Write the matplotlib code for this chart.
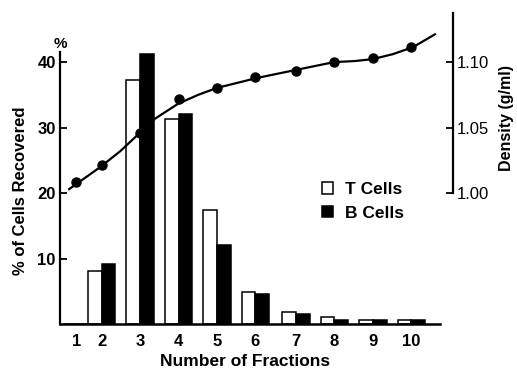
import numpy as np
import matplotlib
matplotlib.use("Agg")
import matplotlib.pyplot as plt

plt.rcParams['font.family'] = ['Liberation Sans', 'DejaVu Sans']

# fractions and where they sit along the x axis
fractions = ["1", "2", "3", "4", "5", "6", "7", "8", "9", "10"]
frac_x = [1.35, 2, 3, 4, 5, 6, 7.05, 8.05, 9.05, 10.05]

# % of cells recovered
t_cells = [0, 8.1, 37.3, 31.3, 17.4, 4.9, 1.8, 1.0, 0.6, 0.6]
b_cells = [0, 9.2, 41.2, 32.1, 12.1, 4.6, 1.6, 0.6, 0.6, 0.6]

# density of each fraction (g/ml)
density = [1.0083, 1.0212, 1.0462, 1.0718, 1.0803, 1.0886, 1.0932, 1.100, 1.103, 1.1114]

# fitted density curve
curve_x = [1.16, 1.96, 2.48, 2.95, 3.39, 3.99, 4.51, 5.0, 6.04, 7.03, 8.04, 8.58, 9.05, 9.57, 10.09, 10.66]
curve_d = [1.003, 1.0197, 1.0318, 1.0447, 1.0568, 1.0682, 1.075, 1.0803, 1.0879, 1.0939,
           1.100, 1.1008, 1.1023, 1.1061, 1.1114, 1.1212]

W, H = 517, 369
fig = plt.figure(figsize=(W/100, H/100), dpi=100)
ax = fig.add_axes([60/W, 1-324/H, (453-60)/W, (324-13)/H])
ax.set_xlim(0.922, 11.13)
ax.set_ylim(0, 47.5)

bw = 0.36
x = np.array(frac_x)
ax.bar(x - bw/2, t_cells, bw, color="white", edgecolor="black", linewidth=1.1, label="T Cells")
ax.bar(x + bw/2, b_cells, bw, color="black", edgecolor="black", linewidth=1.1, label="B Cells")

ax.spines['top'].set_visible(False)
ax.spines['right'].set_visible(False)
ax.spines['left'].set_linewidth(1.6)
ax.spines['bottom'].set_linewidth(1.8)
ax.spines['left'].set_bounds(0, 41.5)
ax.spines['bottom'].set_bounds(0.922, 10.79)
ax.set_yticks([10, 20, 30, 40])
ax.set_yticklabels(["10", "20", "30", "40"], fontsize=12, fontweight="bold")
ax.tick_params(axis='y', direction='in', length=5, width=1.3, pad=3)
ax.set_xticks(frac_x)
ax.set_xticklabels(fractions, fontsize=12, fontweight="bold")
ax.tick_params(axis='x', length=0, pad=7)
ax.set_xlabel("Number of Fractions", fontsize=12.5, fontweight="bold", va="center", ha="center")
ax.xaxis.set_label_coords((245-60)/393, -(361-324)/311)
ax.set_ylabel("% of Cells Recovered", fontsize=12, fontweight="bold", va="center", ha="center")
ax.yaxis.set_label_coords((21-60)/393, (324-191)/311)

ax2 = ax.twinx()
ax2.set_ylim(0.90, 1.1375)
for s in ['left', 'top', 'bottom']:
    ax2.spines[s].set_visible(False)
ax2.spines['right'].set_linewidth(1.6)
ax2.spines['right'].set_bounds(1.0, 1.1375)
ax2.set_yticks([1.00, 1.05, 1.10])
ax2.set_yticklabels(["1.00", "1.05", "1.10"], fontsize=12)
ax2.tick_params(axis='y', direction='in', length=5, width=1.3, pad=3)
ax2.set_ylabel("Density (g/ml)", fontsize=11.5, fontweight="bold", va="center", ha="center")
ax2.yaxis.set_label_coords((506-60)/393, (324-118)/311)

ax2.plot(curve_x, curve_d, color="black", linewidth=1.6, solid_joinstyle="round")
ax2.plot(frac_x, density, "o", color="black", markersize=6.5)

fig.text(60/W, 1-44/H, "%", ha="center", va="center", fontsize=11, fontweight="bold")

ax.legend(loc="upper left", bbox_to_anchor=(322/W, 1-182/H), bbox_transform=fig.transFigure,
          frameon=False, prop={'weight': 'bold', 'size': 12.5}, handlelength=0.65, handleheight=0.65,
          handletextpad=0.7, labelspacing=0.5, borderpad=0, borderaxespad=0)

fig.savefig("out.png", dpi=100)
